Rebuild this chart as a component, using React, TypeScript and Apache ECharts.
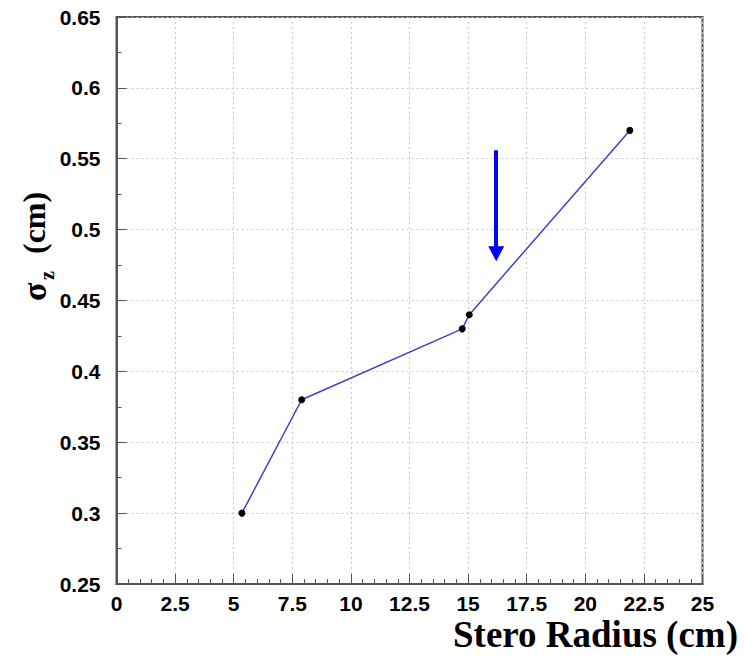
import React, { useEffect, useRef } from "react";
import * as echarts from "echarts";

const radius = [5.35, 7.9, 14.75, 15.05, 21.9];
const sigmaZ = [0.3, 0.38, 0.43, 0.44, 0.57];
const arrowX = 16.2;
const arrowFrom = 0.556;
const arrowTo = 0.483;
const xTitle = "Stero Radius (cm)";

export default function App() {
  const ref = useRef<HTMLDivElement>(null);
  useEffect(() => {
    if (!ref.current) return;
    const chart = echarts.init(ref.current, null, { renderer: "svg" });
    const labelFont = {
      fontFamily: "Liberation Sans, Arial, sans-serif",
      fontWeight: "bold" as const,
      fontSize: 21,
      color: "#000",
    };
    const serif = "Liberation Serif, Times New Roman, serif";
    chart.setOption({
      animation: false,
      backgroundColor: "#fff",
      grid: {
        left: 116.5,
        right: 41.5,
        top: 17,
        bottom: 75,
        show: true,
        borderColor: "#555",
        borderWidth: 2,
        backgroundColor: "transparent",
      },
      xAxis: {
        type: "value",
        min: 0,
        max: 25,
        interval: 2.5,
        axisLine: { show: true, onZero: false, lineStyle: { color: "#555", width: 2 } },
        axisTick: { show: true, inside: true, length: 10, lineStyle: { color: "#555", width: 1 } },
        minorTick: { show: true, splitNumber: 5, length: 5, lineStyle: { color: "#555", width: 1 } },
        splitLine: { show: true, lineStyle: { color: "#c8c8c8", type: [2, 3], width: 1 } },
        axisLabel: { ...labelFont, margin: 9, formatter: (v: number) => String(v) },
      },
      yAxis: {
        type: "value",
        min: 0.25,
        max: 0.65,
        interval: 0.05,
        axisLine: { show: true, onZero: false, lineStyle: { color: "#555", width: 2 } },
        axisTick: { show: true, inside: true, length: 10, lineStyle: { color: "#555", width: 1 } },
        minorTick: { show: true, splitNumber: 2, length: 5, lineStyle: { color: "#555", width: 1 } },
        splitLine: { show: true, lineStyle: { color: "#c8c8c8", type: [2, 3], width: 1 } },
        axisLabel: {
          ...labelFont,
          margin: 16,
          formatter: (v: number) => String(Math.round(v * 100) / 100),
        },
      },
      series: [
        {
          type: "line",
          data: radius.map((x, i) => [x, sigmaZ[i]]),
          lineStyle: { color: "#4040c8", width: 1.5 },
          itemStyle: { color: "#000" },
          symbol: "circle",
          symbolSize: 7,
          showSymbol: true,
          markLine: {
            silent: true,
            symbol: ["none", "triangle"],
            symbolSize: [16, 15],
            label: { show: false },
            lineStyle: { color: "#0000ff", width: 4, type: "solid" },
            data: [
              [
                { coord: [arrowX, arrowFrom] },
                { coord: [arrowX, arrowTo] },
              ],
            ],
          },
        },
      ],
      graphic: [
        {
          type: "text",
          right: 6,
          top: 616,
          style: {
            text: xTitle,
            font: `bold 37px ${serif}`,
            lineHeight: 37,
            fill: "#000",
          },
        },
        {
          type: "group",
          x: 36,
          y: 243,
          rotation: Math.PI / 2,
          children: [
            {
              type: "text",
              x: -58,
              y: -2,
              style: {
                text: "σ",
                font: `bold 34px ${serif}`,
                fill: "#000",
                textVerticalAlign: "middle",
                textAlign: "left",
              },
            },
            {
              type: "text",
              x: -37,
              y: 11,
              style: {
                text: "z",
                font: `bold 20px ${serif}`,
                fill: "#000",
                textVerticalAlign: "middle",
                textAlign: "left",
              },
            },
            {
              type: "text",
              x: -11,
              y: -2,
              style: {
                text: "(cm)",
                font: `bold 32px ${serif}`,
                fill: "#000",
                textVerticalAlign: "middle",
                textAlign: "left",
              },
            },
          ],
        },
      ],
    });
    return () => chart.dispose();
  }, []);
  return (
    <div
      ref={ref}
      style={{ position: "fixed", left: 0, top: 0, width: 744, height: 659 }}
    />
  );
}
